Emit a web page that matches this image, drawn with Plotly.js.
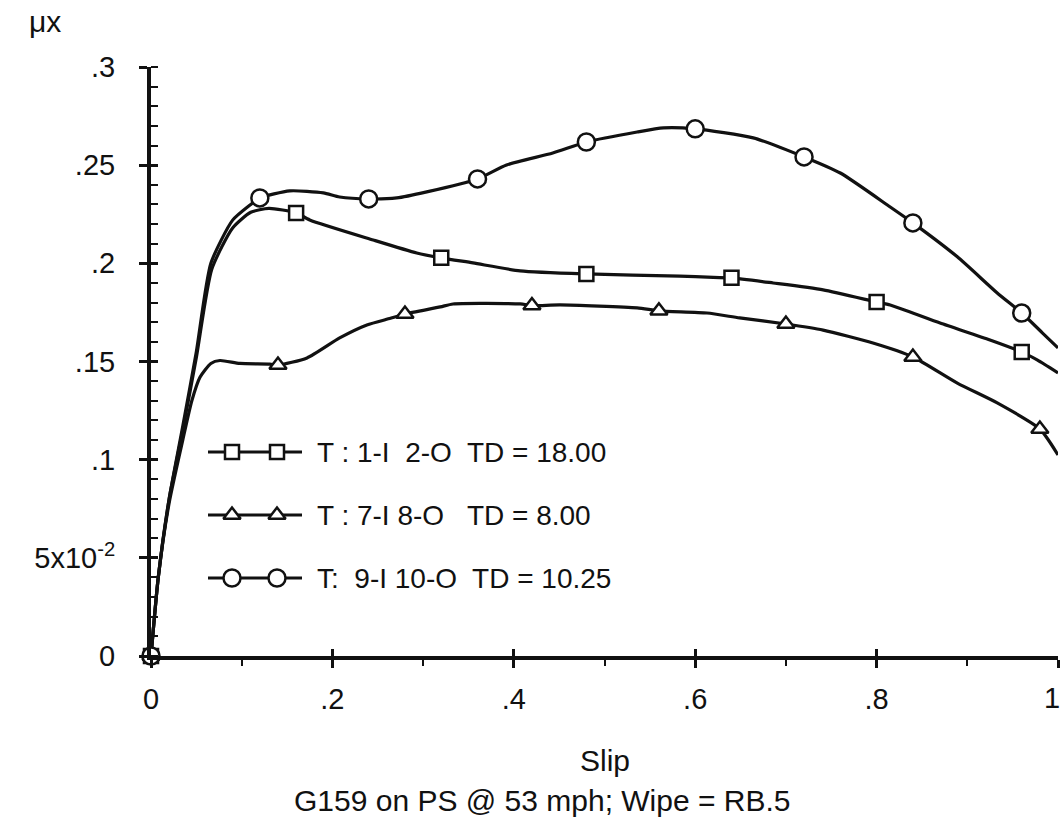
<!DOCTYPE html>
<html><head><meta charset="utf-8">
<script src="https://cdn.plot.ly/plotly-3.0.1.min.js"></script>
<style>html,body{margin:0;padding:0;background:#fff}#chart{width:1064px;height:832px}</style>
</head><body><div id="chart"></div>
<script>
// ---- data ----
const sqLineX = [0,0.008,0.02,0.035,0.05,0.067,0.09,0.11,0.13,0.16,0.175,0.245,0.293,0.32,0.355,0.407,0.48,0.583,0.62,0.64,0.686,0.741,0.80,0.815,0.87,0.925,0.96,0.977,1.0];
const sqLineY = [0,0.04,0.08,0.115,0.152,0.197,0.218,0.226,0.228,0.2257,0.2221,0.2119,0.2053,0.2028,0.2002,0.1962,0.1946,0.1935,0.1928,0.1926,0.190,0.1865,0.1803,0.1788,0.1696,0.161,0.1549,0.1508,0.1442];
const sqMarkX = [0,0.16,0.32,0.48,0.64,0.80,0.96];
const sqMarkY = [0,0.2257,0.2028,0.1946,0.1926,0.1803,0.1549];

const trLineX = [0,0.008,0.02,0.035,0.045,0.054,0.066,0.076,0.098,0.131,0.14,0.172,0.208,0.238,0.264,0.28,0.319,0.333,0.407,0.42,0.451,0.536,0.56,0.613,0.649,0.70,0.741,0.796,0.84,0.889,0.933,0.98,1.0];
const trLineY = [0,0.04,0.078,0.11,0.13,0.142,0.149,0.1505,0.149,0.1487,0.1482,0.1518,0.162,0.1686,0.172,0.1742,0.1778,0.1793,0.1793,0.1785,0.1788,0.1773,0.1758,0.1747,0.1722,0.1691,0.166,0.1594,0.1523,0.139,0.1289,0.1156,0.1024];
const trMarkX = [0,0.14,0.28,0.42,0.56,0.70,0.84,0.98];
const trMarkY = [0,0.1482,0.1742,0.1785,0.1758,0.1691,0.1523,0.1156];

const ciLineX = [0,0.008,0.02,0.035,0.05,0.066,0.09,0.11,0.12,0.153,0.19,0.208,0.24,0.271,0.304,0.36,0.392,0.443,0.48,0.536,0.565,0.60,0.664,0.72,0.76,0.815,0.84,0.889,0.933,0.96,0.983,1.0];
const ciLineY = [0,0.04,0.08,0.117,0.155,0.200,0.222,0.230,0.2333,0.2369,0.2359,0.2338,0.2328,0.2333,0.2364,0.2430,0.2501,0.2562,0.2618,0.2669,0.269,0.2685,0.2639,0.2542,0.246,0.2287,0.2206,0.2033,0.1849,0.1747,0.1645,0.1569];
const ciMarkX = [0,0.12,0.24,0.36,0.48,0.60,0.72,0.84,0.96];
const ciMarkY = [0,0.2333,0.2328,0.2430,0.2618,0.2685,0.2542,0.2206,0.1747];

const seriesNames = ['T : 1-I\u00A0 2-O\u00A0 TD = 18.00', 'T : 7-I 8-O\u00A0\u00A0 TD = 8.00', 'T:\u00A0 9-I 10-O\u00A0 TD = 10.25'];
const seriesSymbols = ['square','triangle-up','circle'];

// the last x label ("1") sits at the right edge; it is drawn as an annotation nudged inward
const xTickVals = [0,0.2,0.4,0.6,0.8,1];
const xTickText = ['0','.2','.4','.6','.8',''];
const xEdgeLabel = {x:1, text:'1'};
const yTickVals = [0,0.05,0.1,0.15,0.2,0.25,0.3];
const yTickText = ['0','5x10<sup>-2</sup>','.1','.15','.2','.25','.3'];

const xTitle = 'Slip';
const yTitle = '\u03BCx';
const caption = 'G159 on PS @ 53 mph; Wipe = RB.5';

// ---- styling ----
const FONT = 'Liberation Sans, Arial, Helvetica, sans-serif';
const INK = '#111';
const LW = 3.2;
const symSize = {'square':14,'triangle-up':15,'circle':17};

function lineTrace(x,y){
  return {x:x,y:y,type:'scatter',mode:'lines',line:{color:INK,width:LW,shape:'spline',smoothing:0.6},hoverinfo:'skip',showlegend:false,cliponaxis:false};
}
function markTrace(x,y,sym){
  return {x:x,y:y,type:'scatter',mode:'markers',marker:{symbol:sym,size:symSize[sym],color:'#fff',line:{color:INK,width:2.5}},hoverinfo:'skip',showlegend:false,cliponaxis:false};
}

const traces = [
  lineTrace(sqLineX,sqLineY), lineTrace(trLineX,trLineY), lineTrace(ciLineX,ciLineY),
  markTrace(sqMarkX,sqMarkY,'square'), markTrace(trMarkX,trMarkY,'triangle-up'), markTrace(ciMarkX,ciMarkY,'circle')
];

// legend samples drawn on a hidden pixel-like overlay axis (x2: 0..907, y2: 0..589)
const legendRowY = [204,141,78];
const legendLineX = [57,151];
const legendMarkX = [81,126];
const legendTextX = 164;
const annotations = [];
seriesNames.forEach(function(name,i){
  const ly = legendRowY[i];
  traces.push({x:legendLineX,y:[ly,ly],xaxis:'x2',yaxis:'y2',type:'scatter',mode:'lines',line:{color:INK,width:LW},hoverinfo:'skip',showlegend:false});
  traces.push({x:legendMarkX,y:[ly,ly],xaxis:'x2',yaxis:'y2',type:'scatter',mode:'markers',marker:{symbol:seriesSymbols[i],size:symSize[seriesSymbols[i]],color:'#fff',line:{color:INK,width:2.5}},hoverinfo:'skip',showlegend:false});
  annotations.push({xref:'x2',yref:'y2',x:legendTextX,y:ly,text:name,showarrow:false,xanchor:'left',yanchor:'middle',font:{family:FONT,size:28,color:INK}});
});

annotations.push({xref:'x',yref:'paper',x:xEdgeLabel.x,y:0,xanchor:'center',yanchor:'middle',xshift:-6,yshift:-42,text:xEdgeLabel.text,showarrow:false,font:{family:FONT,size:29,color:INK}});
annotations.push({xref:'paper',yref:'paper',x:0.5,y:0,yanchor:'middle',yshift:-104,text:xTitle,showarrow:false,font:{family:FONT,size:30,color:INK}});
annotations.push({xref:'paper',yref:'paper',x:0.432,y:0,yanchor:'middle',yshift:-144,text:caption,showarrow:false,font:{family:FONT,size:30,color:INK}});
annotations.push({xref:'paper',yref:'paper',x:-0.117,y:1,xanchor:'center',yanchor:'middle',yshift:46,text:yTitle,showarrow:false,font:{family:FONT,size:30,color:INK}});

const layout = {
  width:1064,height:832,
  margin:{l:151,r:6,t:67,b:176},
  paper_bgcolor:'#fff',plot_bgcolor:'#fff',
  font:{family:FONT,color:INK},
  showlegend:false,
  xaxis:{range:[0,1],tickvals:xTickVals,ticktext:xTickText,showgrid:false,zeroline:false,showline:true,linewidth:4,linecolor:INK,
    ticks:'outside',ticklen:8,tickwidth:3,tickcolor:INK,ticklabelstandoff:6,tickfont:{family:FONT,size:29,color:INK},
    minor:{dtick:0.1,tick0:0,ticks:'outside',ticklen:6,tickwidth:2,tickcolor:INK,showgrid:false},fixedrange:true},
  yaxis:{range:[0,0.3],tickvals:yTickVals,ticktext:yTickText,showgrid:false,zeroline:false,showline:true,linewidth:4,linecolor:INK,
    ticks:'outside',ticklen:8,tickwidth:3,tickcolor:INK,ticklabelstandoff:18,ticklabeloverflow:'allow',tickfont:{family:FONT,size:29,color:INK},
    minor:{dtick:0.01,tick0:0,ticks:'inside',ticklen:7,tickwidth:2,tickcolor:INK,showgrid:false},fixedrange:true},
  xaxis2:{overlaying:'x',range:[0,907],visible:false,fixedrange:true,anchor:'y2'},
  yaxis2:{overlaying:'y',range:[0,589],visible:false,fixedrange:true,anchor:'x2'},
  // inner halves of the crossing major ticks
  xaxis3:{overlaying:'x',range:[0,1],tickvals:xTickVals,showticklabels:false,ticks:'inside',ticklen:7,tickwidth:3,tickcolor:INK,showline:false,showgrid:false,zeroline:false,fixedrange:true,anchor:'y3'},
  yaxis3:{overlaying:'y',range:[0,0.3],tickvals:yTickVals,showticklabels:false,ticks:'inside',ticklen:7,tickwidth:3,tickcolor:INK,showline:false,showgrid:false,zeroline:false,fixedrange:true,anchor:'x3'},
  annotations:annotations
};

// empty trace so the inner-tick overlay axes are drawn
traces.push({x:[],y:[],xaxis:'x3',yaxis:'y3',type:'scatter',mode:'lines',hoverinfo:'skip',showlegend:false});

Plotly.newPlot('chart',traces,layout,{staticPlot:true,displayModeBar:false});
</script>
</body></html>
